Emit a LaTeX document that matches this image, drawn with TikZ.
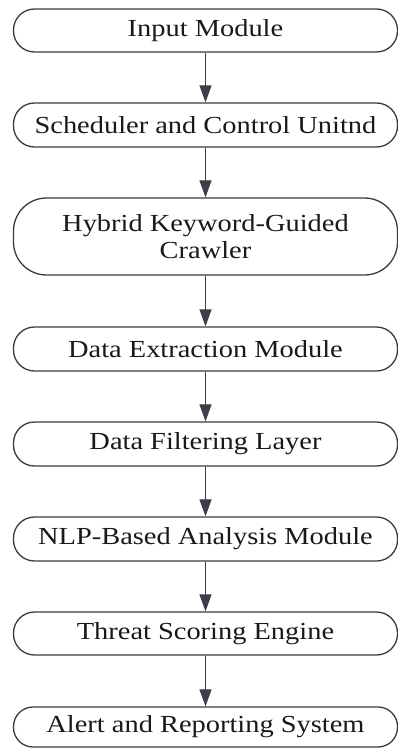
\documentclass[tikz,border=0pt]{standalone}
\usepackage{fontspec}
\setmainfont{Liberation Serif}[FakeStretch=1.16]
\usetikzlibrary{arrows.meta}
\definecolor{edgegray}{HTML}{3A3A3A}
\definecolor{arrowgray}{HTML}{3B3F48}
\tikzset{
  stage/.style={draw=edgegray, line width=1.3pt, rectangle, rounded corners=21pt,
    minimum width=384pt, inner sep=0pt, align=center, text=black!90,
    font=\fontsize{24.5}{27}\selectfont},
  flow/.style={draw=arrowgray, line width=1.2pt,
    -{Triangle[width=12pt,length=17pt]}}
}
\begin{document}
\begin{tikzpicture}[x=1pt,y=-1pt]
  \useasboundingbox (0,0) rectangle (398,749);
  \node[stage, minimum height=43pt] (n1) at (205.5,30.5) {Input Module};
  \node[stage, minimum height=44pt] (n2) at (205.5,125) {Scheduler and Control Unitnd};
  \node[stage, minimum height=77pt, rounded corners=33pt] (n3) at (205.5,236.5) {Hybrid Keyword-Guided\\Crawler};
  \node[stage, minimum height=44pt] (n4) at (205.5,349) {Data Extraction Module};
  \node[stage, minimum height=44pt] (n5) at (205.5,444) {Data Filtering Layer};
  \node[stage, minimum height=44pt] (n6) at (205.5,539) {NLP-Based Analysis Module};
  \node[stage, minimum height=43pt] (n7) at (205.5,633.5) {Threat Scoring Engine};
  \node[stage, minimum height=40pt, rounded corners=19.5pt] (n8) at (205.5,727) {Alert and Reporting System};
  \foreach \a/\b in {n1/n2,n2/n3,n3/n4,n4/n5,n5/n6,n6/n7,n7/n8}
    \draw[flow] (\a) -- (\b);
\end{tikzpicture}
\end{document}
